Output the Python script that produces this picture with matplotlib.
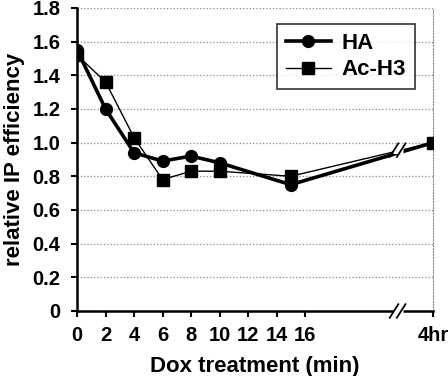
import matplotlib
matplotlib.use("Agg")
import matplotlib.pyplot as plt

plt.rcParams['font.family'] = ['Liberation Sans', 'DejaVu Sans']
plt.rcParams['font.weight'] = 'bold'

# x positions: minutes, with "4hr" placed after an axis break
time_x = [0, 2, 4, 6, 8, 10, 15, 25]
ha = [1.55, 1.20, 0.94, 0.89, 0.92, 0.88, 0.75, 1.00]
ac_h3 = [1.52, 1.36, 1.03, 0.78, 0.83, 0.83, 0.80, 1.00]

xtick_pos = [0, 2, 4, 6, 8, 10, 12, 14, 16, 25]
xtick_labels = ['0', '2', '4', '6', '8', '10', '12', '14', '16', '4hr']
ytick_pos = [0, 0.2, 0.4, 0.6, 0.8, 1.0, 1.2, 1.4, 1.6, 1.8]
ytick_labels = ['0', '0.2', '0.4', '0.6', '0.8', '1.0', '1.2', '1.4', '1.6', '1.8']
break_x = 22.5

fig = plt.figure(figsize=(4.48, 3.76), dpi=100)
ax = fig.add_axes([0.172, 0.173, 0.795, 0.806])

ax.plot(time_x, ha, color='black', lw=2.6, marker='o', ms=8.5, label='HA', zorder=4)
ax.plot(time_x, ac_h3, color='black', lw=1.0, marker='s', ms=8, label='Ac-H3', zorder=3)

ax.set_xlim(0, 25)
ax.set_ylim(0, 1.8)
ax.set_xticks(xtick_pos)
ax.set_xticklabels(xtick_labels)
ax.set_yticks(ytick_pos)
ax.set_yticklabels(ytick_labels)
ax.tick_params(axis='both', labelsize=14.5, width=1.5, length=4, direction='out')
ax.tick_params(axis='x', pad=7)
ax.tick_params(axis='y', pad=8)

ax.yaxis.grid(True, linestyle=':', color='#888888', lw=0.9)
ax.set_axisbelow(True)
ax.spines['top'].set_visible(False)
ax.spines['right'].set_linestyle(':')
ax.spines['right'].set_color('#888888')
ax.spines['left'].set_linewidth(1.8)
ax.spines['bottom'].set_linewidth(1.8)

ax.set_xlabel('Dox treatment (min)', fontsize=16, fontweight='bold', labelpad=8)
ax.set_ylabel('relative IP efficiency', fontsize=16, fontweight='bold', labelpad=5)

# axis break marks on x axis and on the lines
for yb in [0, 0.955]:
    ax.plot([break_x - 0.35, break_x + 0.35], [yb, yb], color='white', lw=5,
            clip_on=False, zorder=6, solid_capstyle='butt')
    for dx in [-0.25, 0.25]:
        ax.plot([break_x + dx - 0.3, break_x + dx + 0.3], [yb - 0.04, yb + 0.04],
                color='black', lw=1.3, clip_on=False, zorder=7)

leg = ax.legend(loc='upper right', bbox_to_anchor=(0.949, 0.947), borderaxespad=0,
                fontsize=16, frameon=True, fancybox=False, edgecolor='black',
                handlelength=2.0, handletextpad=0.5, borderpad=0.4, labelspacing=0.25)
leg.get_frame().set_linewidth(1.2)

fig.savefig('out.png', dpi=100)
